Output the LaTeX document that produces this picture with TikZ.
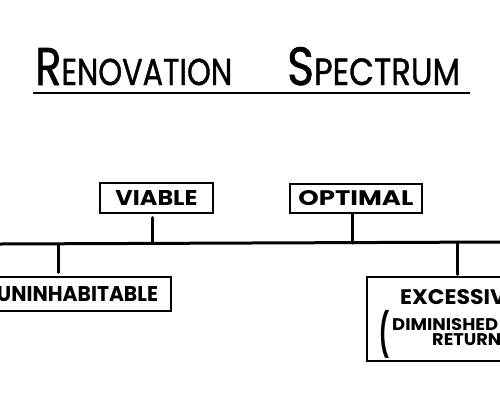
\documentclass[tikz,border=0pt]{standalone}
\usepackage{fontspec}
\usepackage{graphicx}
\setmainfont{Poppins}
\newfontfamily\titlefont[FakeBold=1.2]{Poppins}
\newcommand{\lab}[3]{\resizebox{#1pt}{#2pt}{\bfseries #3}}
\newcommand{\ttl}[4]{\resizebox{#1pt}{#2pt}{\titlefont\fontsize{54}{54}\selectfont #3\fontsize{38}{38}\selectfont #4}}
\tikzset{
  box/.style={draw, line width=1.4pt, inner sep=0pt},
  stem/.style={line width=3pt, line cap=round},
  axis/.style={line width=3pt},
  txt/.style={inner sep=0pt, anchor=base west}
}
\begin{document}
\begin{tikzpicture}[x=1pt,y=-1pt]
\useasboundingbox (0,0) rectangle (500,400);
\fill[white] (0,0) rectangle (500,400);
\clip (0,0) rectangle (500,400);
% title
\node[txt] (t1) at (35,85) {\ttl{197}{37}{R}{ENOVATION}};
\node[txt] (t2) at (287,85) {\ttl{173}{38}{S}{PECTRUM}};
\coordinate (u1) at (33,93);
\coordinate (u2) at (470,93);
\draw[line width=2pt] (u1) -- (u2);
% spectrum line
\coordinate (L) at (0,244);
\coordinate (R) at (500,242);
\draw[axis] (L) -- (R);
\coordinate (j1) at (58,244);
\coordinate (j2) at (152,243);
\coordinate (j3) at (352,243);
\coordinate (j4) at (457,242);
% boxes
\node[box, minimum width=113pt, minimum height=30pt] (viable) at (156.5,198) {\raisebox{-2.5pt}{\lab{82}{15}{VIABLE}}\hspace{15pt}};
\node[box, minimum width=132pt, minimum height=29pt] (optimal) at (356,198.5) {\raisebox{-1pt}{\lab{115}{15}{OPTIMAL}}\hspace{7pt}};
\node[box, minimum width=187pt, minimum height=34pt] (uninh) at (77.5,294) {\lab{161}{15}{UNINHABITABLE}};
\node[box, minimum width=173pt, minimum height=84pt] (exc) at (453.5,319) {};
\node[txt] (exc1) at (400,304) {\lab{118}{15}{EXCESSIVE}};
\node[txt] (exc2) at (392,330) {\lab{106}{12}{DIMINISHED}};
\node[txt] (exc3) at (432,345) {\lab{80}{12}{RETURNS}};
\node[inner sep=0pt, anchor=north west] (par) at (379,310) {\resizebox*{10pt}{48pt}{\bfseries (}};
% stems
\draw[stem, shorten <=4pt] (viable.south -| j2) -- (j2);
\draw[stem] (optimal.south -| j3) -- (j3);
\draw[stem, shorten <=4pt] (uninh.north -| j1) -- (j1);
\draw[stem, shorten <=2pt] (exc.north -| j4) -- (j4);
\end{tikzpicture}
\end{document}
